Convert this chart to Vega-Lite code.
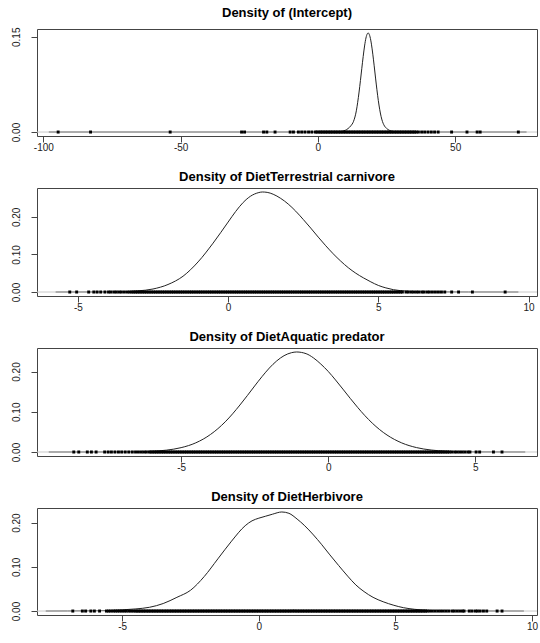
{
"$schema":"https://vega.github.io/schema/vega-lite/v6.json",
"padding":{"left":10,"top":6,"right":3,"bottom":2},
"spacing":17,
"config":{
"view":{"stroke":"#444","strokeWidth":1},
"font":"Liberation Sans",
"axis":{"grid":false,"domain":false,"tickColor":"#444","labelColor":"#222","labelFont":"Liberation Sans","labelFontSize":10,"title":null,"labelFlush":false,"labelOverlap":false},
"axisX":{"tickSize":6,"labelPadding":0,"labelExpr":"datum.value + ''"},
"axisY":{"tickSize":6,"labelPadding":10,"labelAngle":270,"labelAlign":"center","labelBaseline":"bottom"},
"title":{"font":"Liberation Sans","fontSize":13,"fontWeight":"bold","color":"#000","anchor":"middle","offset":4,"baseline":"alphabetic","frame":"group"},
"tick":{"color":"#000","opacity":1,"thickness":2.9,"size":3,"orient":"vertical"}
},
"datasets":{
"dens":[
{"p":1,"x":-98,"y":0},{"p":1,"x":-50,"y":0},{"p":1,"x":0,"y":0},{"p":1,"x":5,"y":0.0001},{"p":1,"x":8,"y":0.0005},{"p":1,"x":9,"y":0.0012},{"p":1,"x":10,"y":0.0028},{"p":1,"x":11,"y":0.0055},{"p":1,"x":12,"y":0.0098},{"p":1,"x":13,"y":0.017},{"p":1,"x":14,"y":0.0334},{"p":1,"x":14.5,"y":0.0469},{"p":1,"x":15,"y":0.063},{"p":1,"x":15.5,"y":0.0812},{"p":1,"x":16,"y":0.1004},{"p":1,"x":16.5,"y":0.119},{"p":1,"x":17,"y":0.1355},{"p":1,"x":17.5,"y":0.148},{"p":1,"x":18,"y":0.1548},{"p":1,"x":18.3,"y":0.156},{"p":1,"x":18.5,"y":0.1555},{"p":1,"x":19,"y":0.1498},{"p":1,"x":19.5,"y":0.1384},{"p":1,"x":20,"y":0.1226},{"p":1,"x":20.5,"y":0.1043},{"p":1,"x":21,"y":0.085},{"p":1,"x":21.5,"y":0.0665},{"p":1,"x":22,"y":0.0499},{"p":1,"x":22.5,"y":0.0359},{"p":1,"x":23,"y":0.0248},{"p":1,"x":23.5,"y":0.0168},{"p":1,"x":24,"y":0.0115},{"p":1,"x":25,"y":0.0058},{"p":1,"x":26,"y":0.0028},{"p":1,"x":27,"y":0.0012},{"p":1,"x":28,"y":0.0005},{"p":1,"x":30,"y":0.0002},{"p":1,"x":35,"y":0.0001},{"p":1,"x":40,"y":0},{"p":1,"x":76,"y":0},
{"p":2,"x":-5.74,"y":0},{"p":2,"x":-4.5,"y":0.0001},{"p":2,"x":-4,"y":0.0003},{"p":2,"x":-3.5,"y":0.0009},{"p":2,"x":-3,"y":0.003},{"p":2,"x":-2.5,"y":0.008},{"p":2,"x":-2,"y":0.02},{"p":2,"x":-1.5,"y":0.042},{"p":2,"x":-1,"y":0.08},{"p":2,"x":-0.5,"y":0.13},{"p":2,"x":0,"y":0.186},{"p":2,"x":0.25,"y":0.214},{"p":2,"x":0.5,"y":0.238},{"p":2,"x":0.75,"y":0.255},{"p":2,"x":1,"y":0.264},{"p":2,"x":1.14,"y":0.266},{"p":2,"x":1.3,"y":0.265},{"p":2,"x":1.5,"y":0.26},{"p":2,"x":1.75,"y":0.249},{"p":2,"x":2,"y":0.234},{"p":2,"x":2.25,"y":0.215},{"p":2,"x":2.5,"y":0.193},{"p":2,"x":2.75,"y":0.17},{"p":2,"x":3,"y":0.146},{"p":2,"x":3.25,"y":0.123},{"p":2,"x":3.5,"y":0.1015},{"p":2,"x":3.75,"y":0.082},{"p":2,"x":4,"y":0.0646},{"p":2,"x":4.25,"y":0.05},{"p":2,"x":4.5,"y":0.0378},{"p":2,"x":4.75,"y":0.027},{"p":2,"x":5,"y":0.0175},{"p":2,"x":5.25,"y":0.011},{"p":2,"x":5.5,"y":0.0062},{"p":2,"x":6,"y":0.002},{"p":2,"x":6.5,"y":0.0007},{"p":2,"x":7,"y":0.0003},{"p":2,"x":8,"y":0.0001},{"p":2,"x":9.66,"y":0},
{"p":3,"x":-9.5,"y":0},{"p":3,"x":-8,"y":0},{"p":3,"x":-7,"y":0.0002},{"p":3,"x":-6,"y":0.0018},{"p":3,"x":-5.5,"y":0.0046},{"p":3,"x":-5,"y":0.0108},{"p":3,"x":-4.5,"y":0.0228},{"p":3,"x":-4,"y":0.0436},{"p":3,"x":-3.5,"y":0.075},{"p":3,"x":-3.25,"y":0.0948},{"p":3,"x":-3,"y":0.1168},{"p":3,"x":-2.75,"y":0.14},{"p":3,"x":-2.5,"y":0.164},{"p":3,"x":-2.25,"y":0.1873},{"p":3,"x":-2,"y":0.2086},{"p":3,"x":-1.75,"y":0.2263},{"p":3,"x":-1.5,"y":0.2393},{"p":3,"x":-1.25,"y":0.2467},{"p":3,"x":-1.07,"y":0.2485},{"p":3,"x":-0.75,"y":0.2443},{"p":3,"x":-0.5,"y":0.2338},{"p":3,"x":-0.25,"y":0.2185},{"p":3,"x":0,"y":0.2003},{"p":3,"x":0.25,"y":0.179},{"p":3,"x":0.5,"y":0.1563},{"p":3,"x":0.75,"y":0.1332},{"p":3,"x":1,"y":0.111},{"p":3,"x":1.25,"y":0.0902},{"p":3,"x":1.5,"y":0.0717},{"p":3,"x":1.75,"y":0.0556},{"p":3,"x":2,"y":0.0422},{"p":3,"x":2.5,"y":0.0226},{"p":3,"x":3,"y":0.011},{"p":3,"x":3.5,"y":0.0049},{"p":3,"x":4,"y":0.002},{"p":3,"x":5,"y":0.0002},{"p":3,"x":6.7,"y":0},
{"p":4,"x":-7.8,"y":0},{"p":4,"x":-7,"y":0.0001},{"p":4,"x":-6,"y":0.0006},{"p":4,"x":-5.5,"y":0.0013},{"p":4,"x":-5,"y":0.0027},{"p":4,"x":-4.5,"y":0.0048},{"p":4,"x":-4,"y":0.0085},{"p":4,"x":-3.5,"y":0.017},{"p":4,"x":-3,"y":0.031},{"p":4,"x":-2.5,"y":0.047},{"p":4,"x":-2,"y":0.078},{"p":4,"x":-1.5,"y":0.118},{"p":4,"x":-1,"y":0.158},{"p":4,"x":-0.5,"y":0.193},{"p":4,"x":-0.25,"y":0.204},{"p":4,"x":0,"y":0.21},{"p":4,"x":0.25,"y":0.2145},{"p":4,"x":0.5,"y":0.219},{"p":4,"x":0.84,"y":0.224},{"p":4,"x":1.1,"y":0.221},{"p":4,"x":1.4,"y":0.208},{"p":4,"x":1.66,"y":0.194},{"p":4,"x":2,"y":0.172},{"p":4,"x":2.29,"y":0.151},{"p":4,"x":2.6,"y":0.127},{"p":4,"x":2.92,"y":0.103},{"p":4,"x":3.25,"y":0.079},{"p":4,"x":3.55,"y":0.059},{"p":4,"x":3.85,"y":0.044},{"p":4,"x":4.18,"y":0.031},{"p":4,"x":4.55,"y":0.021},{"p":4,"x":4.94,"y":0.013},{"p":4,"x":5.3,"y":0.0075},{"p":4,"x":5.69,"y":0.004},{"p":4,"x":6.2,"y":0.0015},{"p":4,"x":7,"y":0.0004},{"p":4,"x":8,"y":0.0001},{"p":4,"x":9.7,"y":0}
],
"rug":[
{"p":1,"x":-94.6},{"p":1,"x":-82.8},{"p":1,"x":-53.8},{"p":1,"x":-27.8},{"p":1,"x":-26.7},{"p":1,"x":-19.8},{"p":1,"x":-18.6},{"p":1,"x":-15.6},{"p":1,"x":-10.1},{"p":1,"x":-8.9},{"p":1,"x":-7.1},{"p":1,"x":-5.9},{"p":1,"x":-4.7},{"p":1,"x":-3.4},{"p":1,"x":-2.2},{"p":1,"x":-0.9},{"p":1,"x":-0.3},
{"p":1,"x":0.4},{"p":1,"x":1.0},{"p":1,"x":1.6},{"p":1,"x":2.2},{"p":1,"x":2.8},{"p":1,"x":3.4},{"p":1,"x":4.0},{"p":1,"x":4.6},{"p":1,"x":5.2},{"p":1,"x":5.8},{"p":1,"x":6.4},{"p":1,"x":7.0},{"p":1,"x":7.6},{"p":1,"x":8.2},{"p":1,"x":8.8},{"p":1,"x":9.4},{"p":1,"x":10.0},{"p":1,"x":10.6},{"p":1,"x":11.2},{"p":1,"x":11.8},{"p":1,"x":12.4},{"p":1,"x":13.0},{"p":1,"x":13.6},{"p":1,"x":14.2},{"p":1,"x":14.8},{"p":1,"x":15.4},{"p":1,"x":16.0},{"p":1,"x":16.6},{"p":1,"x":17.2},{"p":1,"x":17.8},{"p":1,"x":18.4},{"p":1,"x":19.0},{"p":1,"x":19.6},{"p":1,"x":20.2},{"p":1,"x":20.8},{"p":1,"x":21.4},{"p":1,"x":22.0},{"p":1,"x":22.6},{"p":1,"x":23.2},{"p":1,"x":23.8},{"p":1,"x":24.4},{"p":1,"x":25.0},{"p":1,"x":25.6},{"p":1,"x":26.2},{"p":1,"x":26.8},{"p":1,"x":27.4},{"p":1,"x":28.0},{"p":1,"x":28.6},{"p":1,"x":29.2},{"p":1,"x":29.8},{"p":1,"x":30.4},{"p":1,"x":31.0},{"p":1,"x":31.6},{"p":1,"x":32.2},{"p":1,"x":32.8},{"p":1,"x":33.4},{"p":1,"x":34.0},{"p":1,"x":34.6},{"p":1,"x":35.2},{"p":1,"x":35.8},
{"p":1,"x":36.6},{"p":1,"x":37.8},{"p":1,"x":38.9},{"p":1,"x":40.1},{"p":1,"x":41.3},{"p":1,"x":42.5},{"p":1,"x":43.8},{"p":1,"x":48.7},{"p":1,"x":54.3},{"p":1,"x":58.0},{"p":1,"x":59.1},{"p":1,"x":73.0},
{"p":2,"x":-5.27},{"p":2,"x":-5.04},{"p":2,"x":-4.64},{"p":2,"x":-4.47},{"p":2,"x":-4.36},{"p":2,"x":-4.24},{"p":2,"x":-4.1},{"p":2,"x":-3.98},{"p":2,"x":-3.9},{"p":2,"x":-3.8},{"p":2,"x":-3.72},{"p":2,"x":-3.63},{"p":2,"x":-3.55},{"p":2,"x":-3.45},{"p":2,"x":-3.35},{"p":2,"x":-3.27},{"p":2,"x":-3.2},
{"p":2,"x":-3.14},{"p":2,"x":-3.08},{"p":2,"x":-3.02},{"p":2,"x":-2.96},{"p":2,"x":-2.90},{"p":2,"x":-2.84},{"p":2,"x":-2.78},{"p":2,"x":-2.72},{"p":2,"x":-2.66},{"p":2,"x":-2.60},{"p":2,"x":-2.54},{"p":2,"x":-2.48},{"p":2,"x":-2.42},{"p":2,"x":-2.36},{"p":2,"x":-2.30},{"p":2,"x":-2.24},{"p":2,"x":-2.18},{"p":2,"x":-2.12},{"p":2,"x":-2.06},{"p":2,"x":-2.00},{"p":2,"x":-1.94},{"p":2,"x":-1.88},{"p":2,"x":-1.82},{"p":2,"x":-1.76},{"p":2,"x":-1.70},{"p":2,"x":-1.64},{"p":2,"x":-1.58},{"p":2,"x":-1.52},{"p":2,"x":-1.46},{"p":2,"x":-1.40},{"p":2,"x":-1.34},{"p":2,"x":-1.28},{"p":2,"x":-1.22},{"p":2,"x":-1.16},{"p":2,"x":-1.10},{"p":2,"x":-1.04},{"p":2,"x":-0.98},{"p":2,"x":-0.92},{"p":2,"x":-0.86},{"p":2,"x":-0.80},{"p":2,"x":-0.74},{"p":2,"x":-0.68},{"p":2,"x":-0.62},{"p":2,"x":-0.56},{"p":2,"x":-0.50},{"p":2,"x":-0.44},{"p":2,"x":-0.38},{"p":2,"x":-0.32},{"p":2,"x":-0.26},{"p":2,"x":-0.20},{"p":2,"x":-0.14},{"p":2,"x":-0.08},{"p":2,"x":-0.02},
{"p":2,"x":0.04},{"p":2,"x":0.10},{"p":2,"x":0.16},{"p":2,"x":0.22},{"p":2,"x":0.28},{"p":2,"x":0.34},{"p":2,"x":0.40},{"p":2,"x":0.46},{"p":2,"x":0.52},{"p":2,"x":0.58},{"p":2,"x":0.64},{"p":2,"x":0.70},{"p":2,"x":0.76},{"p":2,"x":0.82},{"p":2,"x":0.88},{"p":2,"x":0.94},{"p":2,"x":1.00},{"p":2,"x":1.06},{"p":2,"x":1.12},{"p":2,"x":1.18},{"p":2,"x":1.24},{"p":2,"x":1.30},{"p":2,"x":1.36},{"p":2,"x":1.42},{"p":2,"x":1.48},{"p":2,"x":1.54},{"p":2,"x":1.60},{"p":2,"x":1.66},{"p":2,"x":1.72},{"p":2,"x":1.78},{"p":2,"x":1.84},{"p":2,"x":1.90},{"p":2,"x":1.96},{"p":2,"x":2.02},{"p":2,"x":2.08},{"p":2,"x":2.14},{"p":2,"x":2.20},{"p":2,"x":2.26},{"p":2,"x":2.32},{"p":2,"x":2.38},{"p":2,"x":2.44},{"p":2,"x":2.50},{"p":2,"x":2.56},{"p":2,"x":2.62},{"p":2,"x":2.68},{"p":2,"x":2.74},{"p":2,"x":2.80},{"p":2,"x":2.86},{"p":2,"x":2.92},{"p":2,"x":2.98},{"p":2,"x":3.04},{"p":2,"x":3.10},{"p":2,"x":3.16},{"p":2,"x":3.22},{"p":2,"x":3.28},{"p":2,"x":3.34},{"p":2,"x":3.40},{"p":2,"x":3.46},{"p":2,"x":3.52},{"p":2,"x":3.58},{"p":2,"x":3.64},{"p":2,"x":3.70},{"p":2,"x":3.76},{"p":2,"x":3.82},{"p":2,"x":3.88},{"p":2,"x":3.94},{"p":2,"x":4.00},{"p":2,"x":4.06},{"p":2,"x":4.12},{"p":2,"x":4.18},{"p":2,"x":4.24},{"p":2,"x":4.30},{"p":2,"x":4.36},{"p":2,"x":4.42},{"p":2,"x":4.48},{"p":2,"x":4.54},{"p":2,"x":4.60},{"p":2,"x":4.66},{"p":2,"x":4.72},{"p":2,"x":4.78},{"p":2,"x":4.84},{"p":2,"x":4.90},{"p":2,"x":4.96},{"p":2,"x":5.02},{"p":2,"x":5.08},{"p":2,"x":5.14},{"p":2,"x":5.20},{"p":2,"x":5.26},{"p":2,"x":5.32},{"p":2,"x":5.38},{"p":2,"x":5.44},{"p":2,"x":5.50},{"p":2,"x":5.56},{"p":2,"x":5.62},{"p":2,"x":5.68},{"p":2,"x":5.74},{"p":2,"x":5.80},
{"p":2,"x":5.92},{"p":2,"x":6.0},{"p":2,"x":6.1},{"p":2,"x":6.18},{"p":2,"x":6.27},{"p":2,"x":6.35},{"p":2,"x":6.45},{"p":2,"x":6.52},{"p":2,"x":6.62},{"p":2,"x":6.7},{"p":2,"x":6.8},{"p":2,"x":6.9},{"p":2,"x":7.0},{"p":2,"x":7.1},{"p":2,"x":7.21},{"p":2,"x":7.44},{"p":2,"x":7.67},{"p":2,"x":8.13},{"p":2,"x":9.22},
{"p":3,"x":-8.65},{"p":3,"x":-8.48},{"p":3,"x":-8.19},{"p":3,"x":-8.05},{"p":3,"x":-7.89},{"p":3,"x":-7.6},{"p":3,"x":-7.48},{"p":3,"x":-7.37},{"p":3,"x":-7.25},{"p":3,"x":-7.13},{"p":3,"x":-7.02},{"p":3,"x":-6.9},{"p":3,"x":-6.78},{"p":3,"x":-6.66},{"p":3,"x":-6.55},{"p":3,"x":-6.45},{"p":3,"x":-6.35},{"p":3,"x":-6.26},{"p":3,"x":-6.18},
{"p":3,"x":-6.08},{"p":3,"x":-6.02},{"p":3,"x":-5.96},{"p":3,"x":-5.90},{"p":3,"x":-5.84},{"p":3,"x":-5.78},{"p":3,"x":-5.72},{"p":3,"x":-5.66},{"p":3,"x":-5.60},{"p":3,"x":-5.54},{"p":3,"x":-5.48},{"p":3,"x":-5.42},{"p":3,"x":-5.36},{"p":3,"x":-5.30},{"p":3,"x":-5.24},{"p":3,"x":-5.18},{"p":3,"x":-5.12},{"p":3,"x":-5.06},{"p":3,"x":-5.00},{"p":3,"x":-4.94},{"p":3,"x":-4.88},{"p":3,"x":-4.82},{"p":3,"x":-4.76},{"p":3,"x":-4.70},{"p":3,"x":-4.64},{"p":3,"x":-4.58},{"p":3,"x":-4.52},{"p":3,"x":-4.46},{"p":3,"x":-4.40},{"p":3,"x":-4.34},{"p":3,"x":-4.28},{"p":3,"x":-4.22},{"p":3,"x":-4.16},{"p":3,"x":-4.10},{"p":3,"x":-4.04},{"p":3,"x":-3.98},{"p":3,"x":-3.92},{"p":3,"x":-3.86},{"p":3,"x":-3.80},{"p":3,"x":-3.74},{"p":3,"x":-3.68},{"p":3,"x":-3.62},{"p":3,"x":-3.56},{"p":3,"x":-3.50},{"p":3,"x":-3.44},{"p":3,"x":-3.38},{"p":3,"x":-3.32},{"p":3,"x":-3.26},{"p":3,"x":-3.20},{"p":3,"x":-3.14},{"p":3,"x":-3.08},{"p":3,"x":-3.02},{"p":3,"x":-2.96},{"p":3,"x":-2.90},{"p":3,"x":-2.84},{"p":3,"x":-2.78},{"p":3,"x":-2.72},{"p":3,"x":-2.66},{"p":3,"x":-2.60},{"p":3,"x":-2.54},{"p":3,"x":-2.48},{"p":3,"x":-2.42},{"p":3,"x":-2.36},{"p":3,"x":-2.30},{"p":3,"x":-2.24},{"p":3,"x":-2.18},{"p":3,"x":-2.12},{"p":3,"x":-2.06},{"p":3,"x":-2.00},{"p":3,"x":-1.94},{"p":3,"x":-1.88},{"p":3,"x":-1.82},{"p":3,"x":-1.76},{"p":3,"x":-1.70},{"p":3,"x":-1.64},{"p":3,"x":-1.58},{"p":3,"x":-1.52},{"p":3,"x":-1.46},{"p":3,"x":-1.40},{"p":3,"x":-1.34},{"p":3,"x":-1.28},{"p":3,"x":-1.22},{"p":3,"x":-1.16},{"p":3,"x":-1.10},{"p":3,"x":-1.04},{"p":3,"x":-0.98},{"p":3,"x":-0.92},{"p":3,"x":-0.86},{"p":3,"x":-0.80},{"p":3,"x":-0.74},{"p":3,"x":-0.68},{"p":3,"x":-0.62},{"p":3,"x":-0.56},{"p":3,"x":-0.50},{"p":3,"x":-0.44},{"p":3,"x":-0.38},{"p":3,"x":-0.32},{"p":3,"x":-0.26},{"p":3,"x":-0.20},{"p":3,"x":-0.14},{"p":3,"x":-0.08},{"p":3,"x":-0.02},
{"p":3,"x":0.04},{"p":3,"x":0.10},{"p":3,"x":0.16},{"p":3,"x":0.22},{"p":3,"x":0.28},{"p":3,"x":0.34},{"p":3,"x":0.40},{"p":3,"x":0.46},{"p":3,"x":0.52},{"p":3,"x":0.58},{"p":3,"x":0.64},{"p":3,"x":0.70},{"p":3,"x":0.76},{"p":3,"x":0.82},{"p":3,"x":0.88},{"p":3,"x":0.94},{"p":3,"x":1.00},{"p":3,"x":1.06},{"p":3,"x":1.12},{"p":3,"x":1.18},{"p":3,"x":1.24},{"p":3,"x":1.30},{"p":3,"x":1.36},{"p":3,"x":1.42},{"p":3,"x":1.48},{"p":3,"x":1.54},{"p":3,"x":1.60},{"p":3,"x":1.66},{"p":3,"x":1.72},{"p":3,"x":1.78},{"p":3,"x":1.84},{"p":3,"x":1.90},{"p":3,"x":1.96},{"p":3,"x":2.02},{"p":3,"x":2.08},{"p":3,"x":2.14},{"p":3,"x":2.20},{"p":3,"x":2.26},{"p":3,"x":2.32},{"p":3,"x":2.38},{"p":3,"x":2.44},{"p":3,"x":2.50},{"p":3,"x":2.56},{"p":3,"x":2.62},{"p":3,"x":2.68},{"p":3,"x":2.74},{"p":3,"x":2.80},{"p":3,"x":2.86},{"p":3,"x":2.92},{"p":3,"x":2.98},{"p":3,"x":3.04},{"p":3,"x":3.10},{"p":3,"x":3.16},{"p":3,"x":3.22},{"p":3,"x":3.28},{"p":3,"x":3.34},{"p":3,"x":3.40},{"p":3,"x":3.46},{"p":3,"x":3.52},{"p":3,"x":3.58},{"p":3,"x":3.64},{"p":3,"x":3.70},{"p":3,"x":3.76},{"p":3,"x":3.82},{"p":3,"x":3.88},{"p":3,"x":3.94},{"p":3,"x":4.00},{"p":3,"x":4.06},{"p":3,"x":4.12},
{"p":3,"x":4.2},{"p":3,"x":4.3},{"p":3,"x":4.38},{"p":3,"x":4.47},{"p":3,"x":4.56},{"p":3,"x":4.65},{"p":3,"x":4.75},{"p":3,"x":4.82},{"p":3,"x":5.03},{"p":3,"x":5.15},{"p":3,"x":5.62},{"p":3,"x":5.91},
{"p":4,"x":-6.81},{"p":4,"x":-6.46},{"p":4,"x":-6.34},{"p":4,"x":-6.15},{"p":4,"x":-6.02},{"p":4,"x":-5.83},{"p":4,"x":-5.58},{"p":4,"x":-5.5},{"p":4,"x":-5.42},{"p":4,"x":-5.33},{"p":4,"x":-5.25},{"p":4,"x":-5.17},{"p":4,"x":-5.09},{"p":4,"x":-5.01},{"p":4,"x":-4.93},{"p":4,"x":-4.85},{"p":4,"x":-4.76},{"p":4,"x":-4.68},{"p":4,"x":-4.6},{"p":4,"x":-4.52},
{"p":4,"x":-4.46},{"p":4,"x":-4.40},{"p":4,"x":-4.34},{"p":4,"x":-4.28},{"p":4,"x":-4.22},{"p":4,"x":-4.16},{"p":4,"x":-4.10},{"p":4,"x":-4.04},{"p":4,"x":-3.98},{"p":4,"x":-3.92},{"p":4,"x":-3.86},{"p":4,"x":-3.80},{"p":4,"x":-3.74},{"p":4,"x":-3.68},{"p":4,"x":-3.62},{"p":4,"x":-3.56},{"p":4,"x":-3.50},{"p":4,"x":-3.44},{"p":4,"x":-3.38},{"p":4,"x":-3.32},{"p":4,"x":-3.26},{"p":4,"x":-3.20},{"p":4,"x":-3.14},{"p":4,"x":-3.08},{"p":4,"x":-3.02},{"p":4,"x":-2.96},{"p":4,"x":-2.90},{"p":4,"x":-2.84},{"p":4,"x":-2.78},{"p":4,"x":-2.72},{"p":4,"x":-2.66},{"p":4,"x":-2.60},{"p":4,"x":-2.54},{"p":4,"x":-2.48},{"p":4,"x":-2.42},{"p":4,"x":-2.36},{"p":4,"x":-2.30},{"p":4,"x":-2.24},{"p":4,"x":-2.18},{"p":4,"x":-2.12},{"p":4,"x":-2.06},{"p":4,"x":-2.00},{"p":4,"x":-1.94},{"p":4,"x":-1.88},{"p":4,"x":-1.82},{"p":4,"x":-1.76},{"p":4,"x":-1.70},{"p":4,"x":-1.64},{"p":4,"x":-1.58},{"p":4,"x":-1.52},{"p":4,"x":-1.46},{"p":4,"x":-1.40},{"p":4,"x":-1.34},{"p":4,"x":-1.28},{"p":4,"x":-1.22},{"p":4,"x":-1.16},{"p":4,"x":-1.10},{"p":4,"x":-1.04},{"p":4,"x":-0.98},{"p":4,"x":-0.92},{"p":4,"x":-0.86},{"p":4,"x":-0.80},{"p":4,"x":-0.74},{"p":4,"x":-0.68},{"p":4,"x":-0.62},{"p":4,"x":-0.56},{"p":4,"x":-0.50},{"p":4,"x":-0.44},{"p":4,"x":-0.38},{"p":4,"x":-0.32},{"p":4,"x":-0.26},{"p":4,"x":-0.20},{"p":4,"x":-0.14},{"p":4,"x":-0.08},{"p":4,"x":-0.02},
{"p":4,"x":0.04},{"p":4,"x":0.10},{"p":4,"x":0.16},{"p":4,"x":0.22},{"p":4,"x":0.28},{"p":4,"x":0.34},{"p":4,"x":0.40},{"p":4,"x":0.46},{"p":4,"x":0.52},{"p":4,"x":0.58},{"p":4,"x":0.64},{"p":4,"x":0.70},{"p":4,"x":0.76},{"p":4,"x":0.82},{"p":4,"x":0.88},{"p":4,"x":0.94},{"p":4,"x":1.00},{"p":4,"x":1.06},{"p":4,"x":1.12},{"p":4,"x":1.18},{"p":4,"x":1.24},{"p":4,"x":1.30},{"p":4,"x":1.36},{"p":4,"x":1.42},{"p":4,"x":1.48},{"p":4,"x":1.54},{"p":4,"x":1.60},{"p":4,"x":1.66},{"p":4,"x":1.72},{"p":4,"x":1.78},{"p":4,"x":1.84},{"p":4,"x":1.90},{"p":4,"x":1.96},{"p":4,"x":2.02},{"p":4,"x":2.08},{"p":4,"x":2.14},{"p":4,"x":2.20},{"p":4,"x":2.26},{"p":4,"x":2.32},{"p":4,"x":2.38},{"p":4,"x":2.44},{"p":4,"x":2.50},{"p":4,"x":2.56},{"p":4,"x":2.62},{"p":4,"x":2.68},{"p":4,"x":2.74},{"p":4,"x":2.80},{"p":4,"x":2.86},{"p":4,"x":2.92},{"p":4,"x":2.98},{"p":4,"x":3.04},{"p":4,"x":3.10},{"p":4,"x":3.16},{"p":4,"x":3.22},{"p":4,"x":3.28},{"p":4,"x":3.34},{"p":4,"x":3.40},{"p":4,"x":3.46},{"p":4,"x":3.52},{"p":4,"x":3.58},{"p":4,"x":3.64},{"p":4,"x":3.70},{"p":4,"x":3.76},{"p":4,"x":3.82},{"p":4,"x":3.88},{"p":4,"x":3.94},{"p":4,"x":4.00},{"p":4,"x":4.06},{"p":4,"x":4.12},{"p":4,"x":4.18},{"p":4,"x":4.24},{"p":4,"x":4.30},{"p":4,"x":4.36},{"p":4,"x":4.42},{"p":4,"x":4.48},{"p":4,"x":4.54},{"p":4,"x":4.60},{"p":4,"x":4.66},{"p":4,"x":4.72},{"p":4,"x":4.78},{"p":4,"x":4.84},{"p":4,"x":4.90},{"p":4,"x":4.96},{"p":4,"x":5.02},{"p":4,"x":5.08},{"p":4,"x":5.14},{"p":4,"x":5.20},{"p":4,"x":5.26},{"p":4,"x":5.32},{"p":4,"x":5.38},{"p":4,"x":5.44},{"p":4,"x":5.50},{"p":4,"x":5.56},{"p":4,"x":5.62},{"p":4,"x":5.68},{"p":4,"x":5.74},{"p":4,"x":5.80},{"p":4,"x":5.86},{"p":4,"x":5.92},{"p":4,"x":5.98},{"p":4,"x":6.04},{"p":4,"x":6.10},{"p":4,"x":6.16},
{"p":4,"x":6.25},{"p":4,"x":6.35},{"p":4,"x":6.45},{"p":4,"x":6.55},{"p":4,"x":6.65},{"p":4,"x":6.75},{"p":4,"x":6.85},{"p":4,"x":6.95},{"p":4,"x":7.07},{"p":4,"x":7.15},{"p":4,"x":7.25},{"p":4,"x":7.35},{"p":4,"x":7.45},{"p":4,"x":7.51},{"p":4,"x":7.7},{"p":4,"x":7.8},{"p":4,"x":7.92},{"p":4,"x":8.0},{"p":4,"x":8.1},{"p":4,"x":8.22},{"p":4,"x":8.34},{"p":4,"x":8.72},{"p":4,"x":8.9}
]
},
"vconcat":[
{"title":{"text":"Density of (Intercept)","offset":7},"width":500,"height":107,
"layer":[
{"data":{"name":"dens"},"transform":[{"filter":"datum.p == 1"}],"mark":{"type":"line","color":"#222","strokeWidth":1,"clip":true,"interpolate":"monotone"},
"encoding":{"x":{"field":"x","type":"quantitative","scale":{"domain":[-102.3,79.8],"nice":false,"zero":false},"axis":{"values":[-100,-50,0,50]}},
"y":{"field":"y","type":"quantitative","scale":{"domain":[-0.00624,0.16224],"nice":false,"zero":false},"axis":{"values":[0,0.05,0.1,0.15],"labelExpr":"format(datum.value,'.2f')"}}}},
{"data":{"values":[{"y":0}]},"mark":{"type":"rule","color":"#c8c8c8","strokeWidth":1},"encoding":{"y":{"field":"y","type":"quantitative"}}},
{"data":{"name":"rug"},"transform":[{"filter":"datum.p == 1"}],"mark":{"type":"tick"},"encoding":{"x":{"field":"x","type":"quantitative"},"y":{"datum":0}}}
]},
{"title":"Density of DietTerrestrial carnivore","width":500,"height":108,
"layer":[
{"data":{"name":"dens"},"transform":[{"filter":"datum.p == 2"}],"mark":{"type":"line","color":"#222","strokeWidth":1,"clip":true,"interpolate":"monotone"},
"encoding":{"x":{"field":"x","type":"quantitative","scale":{"domain":[-6.36,10.28],"nice":false,"zero":false},"axis":{"values":[-5,0,5,10]}},
"y":{"field":"y","type":"quantitative","scale":{"domain":[-0.0106,0.2766],"nice":false,"zero":false},"axis":{"values":[0,0.05,0.1,0.15,0.2,0.25],"labelExpr":"round(datum.value*100) % 10 == 0 ? format(datum.value,'.2f') : ''"}}}},
{"data":{"values":[{"y":0}]},"mark":{"type":"rule","color":"#c8c8c8","strokeWidth":1},"encoding":{"y":{"field":"y","type":"quantitative"}}},
{"data":{"name":"rug"},"transform":[{"filter":"datum.p == 2"}],"mark":{"type":"tick"},"encoding":{"x":{"field":"x","type":"quantitative"},"y":{"datum":0}}}
]},
{"title":"Density of DietAquatic predator","width":500,"height":108,
"layer":[
{"data":{"name":"dens"},"transform":[{"filter":"datum.p == 3"}],"mark":{"type":"line","color":"#222","strokeWidth":1,"clip":true,"interpolate":"monotone"},
"encoding":{"x":{"field":"x","type":"quantitative","scale":{"domain":[-9.9,7.1],"nice":false,"zero":false},"axis":{"values":[-5,0,5]}},
"y":{"field":"y","type":"quantitative","scale":{"domain":[-0.00994,0.2584],"nice":false,"zero":false},"axis":{"values":[0,0.05,0.1,0.15,0.2,0.25],"labelExpr":"round(datum.value*100) % 10 == 0 ? format(datum.value,'.2f') : ''"}}}},
{"data":{"values":[{"y":0}]},"mark":{"type":"rule","color":"#c8c8c8","strokeWidth":1},"encoding":{"y":{"field":"y","type":"quantitative"}}},
{"data":{"name":"rug"},"transform":[{"filter":"datum.p == 3"}],"mark":{"type":"tick"},"encoding":{"x":{"field":"x","type":"quantitative"},"y":{"datum":0}}}
]},
{"title":"Density of DietHerbivore","width":500,"height":107,
"layer":[
{"data":{"name":"dens"},"transform":[{"filter":"datum.p == 4"}],"mark":{"type":"line","color":"#222","strokeWidth":1,"clip":true,"interpolate":"monotone"},
"encoding":{"x":{"field":"x","type":"quantitative","scale":{"domain":[-8.12,10.18],"nice":false,"zero":false},"axis":{"values":[-5,0,5,10]}},
"y":{"field":"y","type":"quantitative","scale":{"domain":[-0.00896,0.233],"nice":false,"zero":false},"axis":{"values":[0,0.05,0.1,0.15,0.2],"labelExpr":"round(datum.value*100) % 10 == 0 ? format(datum.value,'.2f') : ''"}}}},
{"data":{"values":[{"y":0}]},"mark":{"type":"rule","color":"#c8c8c8","strokeWidth":1},"encoding":{"y":{"field":"y","type":"quantitative"}}},
{"data":{"name":"rug"},"transform":[{"filter":"datum.p == 4"}],"mark":{"type":"tick"},"encoding":{"x":{"field":"x","type":"quantitative"},"y":{"datum":0}}}
]}
]
}
